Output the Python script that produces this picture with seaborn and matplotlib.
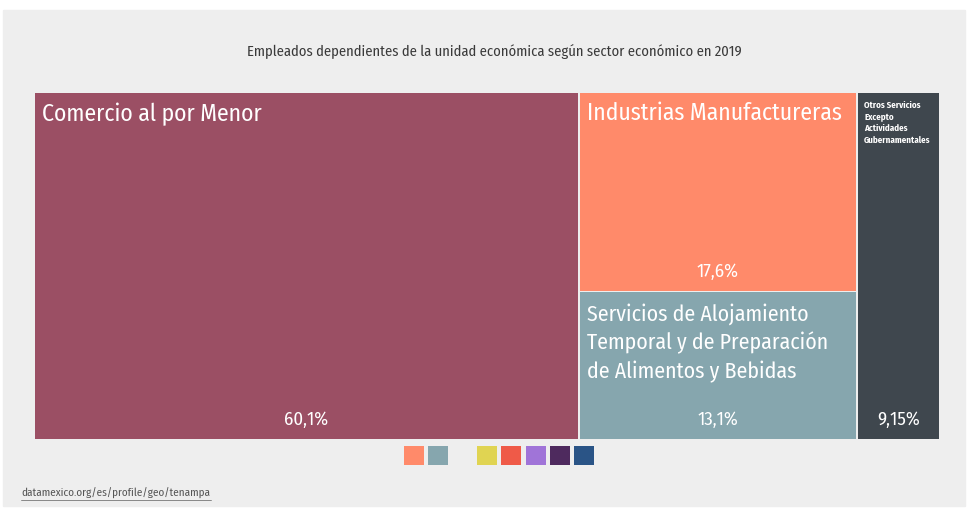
import matplotlib.pyplot as plt
import seaborn as sns
from matplotlib.patches import Rectangle

# Data
sectors = [
    "Comercio al por Menor",
    "Industrias Manufactureras",
    "Servicios de Alojamiento\nTemporal y de Preparación\nde Alimentos y Bebidas",
    "Otros Servicios\nExcepto\nActividades\nGubernamentales",
]
shares = [60.1, 17.6, 13.1, 9.15]
share_labels = ["60,1%", "17,6%", "13,1%", "9,15%"]
sector_colors = ["#9b4f64", "#ff8a6a", "#86a6ae", "#3f474e"]
legend_colors = ["#ff8a6a", "#86a6ae", None, "#e0d452", "#ef5a48", "#a074d8", "#4e2a5e", "#2a5486"]

title = "Empleados dependientes de la unidad económica según sector económico en 2019"
source = "datamexico.org/es/profile/geo/tenampa"


def main():
    sns.set_theme(style="white")
    plt.rcParams["font.family"] = ["Fira Sans Condensed", "DejaVu Sans"]

    fig = plt.figure(figsize=(9.68, 5.08), dpi=100)
    fig.patch.set_facecolor("white")
    ax = fig.add_axes([0, 0, 1, 1])
    ax.set_xlim(0, 968)
    ax.set_ylim(508, 0)
    ax.axis("off")

    # grey panel
    ax.add_patch(Rectangle((3, 10), 962, 496, color="#eeeeee", zorder=0))

    ax.text(494, 51, title, ha="center", va="center", fontsize=10.5, color="#3a3a3a")

    # treemap area
    x0, x1, y0, y1 = 34, 940, 92, 440
    W, H = x1 - x0, y1 - y0
    total = sum(shares)
    gap = 1.5

    # column 1: Comercio
    w0 = shares[0] / total * W
    # column 2: Industrias + Servicios stacked
    w1 = (shares[1] + shares[2]) / total * W
    h1 = shares[1] / (shares[1] + shares[2]) * H
    # column 3: Otros
    w3 = W - w0 - w1

    rects = [
        (x0, y0, w0, H),
        (x0 + w0, y0, w1, h1),
        (x0 + w0, y0 + h1, w1, H - h1),
        (x0 + w0 + w1, y0, w3, H),
    ]
    label_sizes = [17, 17, 15.7]
    label_pad = [11, 10, 11.5]
    for i, (rx, ry, rw, rh) in enumerate(rects):
        ax.add_patch(Rectangle((rx + gap / 2, ry + gap / 2), rw - gap, rh - gap,
                               color=sector_colors[i], zorder=1, lw=0))
        if i < 3:
            ax.text(rx + 8, ry + label_pad[i], sectors[i], ha="left", va="top",
                    fontsize=label_sizes[i], color="white", linespacing=1.38, zorder=2)
        else:
            ax.text(rx + 7, ry + 9, sectors[i], ha="left", va="top", fontsize=6.4,
                    color="white", fontweight="bold", linespacing=1.4, zorder=2)
        ax.text(rx + rw / 2, ry + rh - 20, share_labels[i], ha="center", va="center",
                fontsize=13.5, color="white", zorder=2)

    # legend squares
    lx = 404
    for c in legend_colors:
        if c is not None:
            ax.add_patch(Rectangle((lx, 446), 20, 19, color=c, zorder=1, lw=0))
        lx += 24.3

    ax.text(21, 493, source, ha="left", va="center", fontsize=8, color="#555555")
    ax.plot([21, 211], [499.5, 499.5], color="#777777", lw=0.6)

    fig.savefig("out.png", dpi=100, facecolor=fig.get_facecolor())
    plt.close(fig)


if __name__ == "__main__":
    main()
